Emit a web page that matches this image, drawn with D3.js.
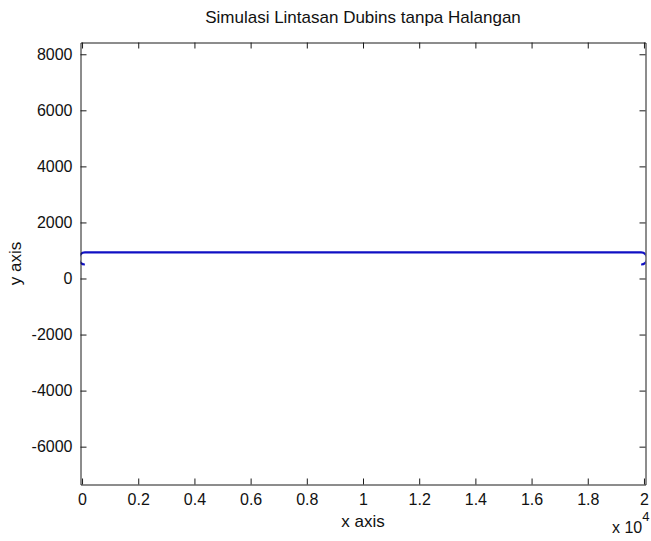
<!DOCTYPE html>
<html>
<head>
<meta charset="utf-8">
<script src="https://cdn.jsdelivr.net/npm/d3@7"></script>
<style>
  html, body { margin: 0; padding: 0; background: #fff; }
  svg { display: block; }
  text { font-family: "Liberation Sans", Arial, Helvetica, sans-serif; fill: #111; }
</style>
</head>
<body>
<script>
// Dubins path: first turn circle, straight leg, last turn circle
const turnCenterX = [100, 19900];
const turnCenterY = [715, 715];
const turnRadius = [215, 215];

// Axis limits and ticks
const xLimits = [-55, 20055];
const yLimits = [-7350, 8420];
const xTicks = [0, 2000, 4000, 6000, 8000, 10000, 12000, 14000, 16000, 18000, 20000];
const xTickLabels = ["0", "0.2", "0.4", "0.6", "0.8", "1", "1.2", "1.4", "1.6", "1.8", "2"];
const yTicks = [-6000, -4000, -2000, 0, 2000, 4000, 6000, 8000];
const yTickLabels = ["-6000", "-4000", "-2000", "0", "2000", "4000", "6000", "8000"];

const titleText = "Simulasi Lintasan Dubins tanpa Halangan";
const xLabelText = "x axis";
const yLabelText = "y axis";

const W = 651, H = 541;
const box = { left: 80.5, right: 645.5, top: 42.5, bottom: 484.5 };

const svg = d3.select("body").append("svg")
  .attr("width", W).attr("height", H);

svg.append("rect").attr("width", W).attr("height", H).attr("fill", "#fff");

const x = d3.scaleLinear().domain(xLimits).range([box.left, box.right]);
const y = d3.scaleLinear().domain(yLimits).range([box.bottom, box.top]);

svg.append("defs").append("clipPath").attr("id", "plotClip")
  .append("rect")
  .attr("x", box.left).attr("y", box.top)
  .attr("width", box.right - box.left).attr("height", box.bottom - box.top);

// Path geometry in pixels
const c0 = [x(turnCenterX[0]), y(turnCenterY[0])];
const c1 = [x(turnCenterX[1]), y(turnCenterY[1])];
const r0 = y(turnCenterY[0]) - y(turnCenterY[0] + turnRadius[0]);
const r1 = y(turnCenterY[1]) - y(turnCenterY[1] + turnRadius[1]);

const p = d3.path();
p.moveTo(c0[0], c0[1] + r0);                       // start, bottom of first circle
p.arc(c0[0], c0[1], r0, Math.PI / 2, Math.PI * 3 / 2, false);
p.lineTo(c1[0], c1[1] - r1);                       // straight leg
p.arc(c1[0], c1[1], r1, -Math.PI / 2, Math.PI / 2, false);

svg.append("path")
  .attr("d", p.toString())
  .attr("clip-path", "url(#plotClip)")
  .attr("fill", "none")
  .attr("stroke", "#1010c4")
  .attr("stroke-width", 2.2)
  .attr("stroke-linejoin", "round");

// Axes with inward ticks on all four sides
const tickLen = 6;
const axisStyle = g => {
  g.selectAll(".domain").attr("stroke", "#1a1a1a").attr("stroke-width", 1);
  g.selectAll(".tick line").attr("stroke", "#1a1a1a").attr("stroke-width", 1);
  g.selectAll("text").attr("font-size", 16).attr("fill", "#111")
    .attr("font-family", "Liberation Sans, Arial, sans-serif");
};

svg.append("g")
  .attr("transform", `translate(0,${box.bottom})`)
  .call(d3.axisBottom(x).tickValues(xTicks)
    .tickFormat((d, i) => xTickLabels[i])
    .tickSizeInner(-tickLen).tickSizeOuter(0).tickPadding(9))
  .call(axisStyle);

svg.append("g")
  .attr("transform", `translate(0,${box.top})`)
  .call(d3.axisTop(x).tickValues(xTicks).tickFormat("")
    .tickSizeInner(-tickLen).tickSizeOuter(0))
  .call(axisStyle);

svg.append("g")
  .attr("transform", `translate(${box.left},0)`)
  .call(d3.axisLeft(y).tickValues(yTicks)
    .tickFormat((d, i) => yTickLabels[i])
    .tickSizeInner(-tickLen).tickSizeOuter(0).tickPadding(8))
  .call(axisStyle);

svg.append("g")
  .attr("transform", `translate(${box.right},0)`)
  .call(d3.axisRight(y).tickValues(yTicks).tickFormat("")
    .tickSizeInner(-tickLen).tickSizeOuter(0))
  .call(axisStyle);

// Title and axis labels
svg.append("text")
  .attr("x", (box.left + box.right) / 2).attr("y", 23)
  .attr("text-anchor", "middle").attr("font-size", 17)
  .text(titleText);

svg.append("text")
  .attr("x", (box.left + box.right) / 2).attr("y", 527)
  .attr("text-anchor", "middle").attr("font-size", 17)
  .text(xLabelText);

svg.append("text")
  .attr("transform", `translate(21,${(box.top + box.bottom) / 2}) rotate(-90)`)
  .attr("text-anchor", "middle").attr("font-size", 17)
  .text(yLabelText);

// Exponent note for the x axis
const expo = svg.append("text").attr("x", 612).attr("y", 533).attr("font-size", 16);
expo.append("tspan").text("x 10");
expo.append("tspan").attr("font-size", 13).attr("dy", -12).text("4");
</script>
</body>
</html>
